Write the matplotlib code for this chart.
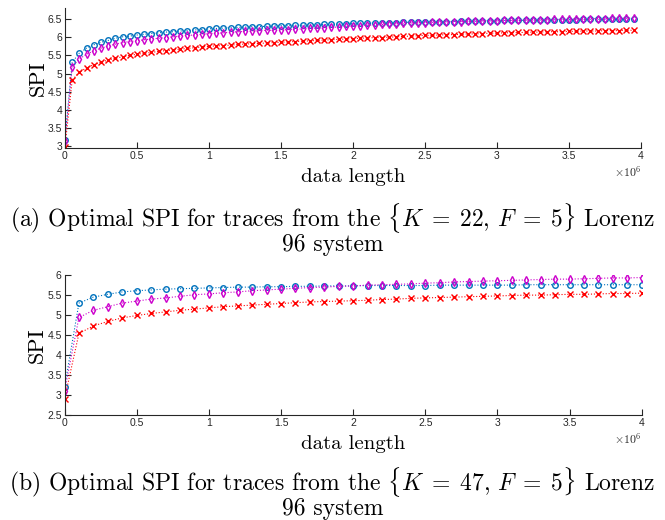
import numpy as np
import matplotlib
matplotlib.use("Agg")
import matplotlib.pyplot as plt
from matplotlib.ticker import FuncFormatter

plt.rcParams['font.family'] = ['Liberation Sans', 'DejaVu Sans']
plt.rcParams['mathtext.fontset'] = 'cm'

# (a) K=22, F=5 : data length every 5e4
len_a = np.arange(0, 4.0e6, 5.0e4)
spi_a_blue = [3.18, 5.31, 5.56, 5.70, 5.79, 5.86, 5.91, 5.97, 6.01, 6.03,
              6.06, 6.08, 6.10, 6.12, 6.14, 6.15, 6.17, 6.18, 6.20, 6.21,
              6.23, 6.24, 6.25, 6.26, 6.27, 6.28, 6.29, 6.29, 6.30, 6.31,
              6.32, 6.32, 6.33, 6.33, 6.34, 6.34, 6.35, 6.35, 6.36, 6.37,
              6.38, 6.38, 6.38, 6.39, 6.39, 6.40, 6.40, 6.41, 6.41, 6.41,
              6.42, 6.42, 6.43, 6.43, 6.43, 6.44, 6.44, 6.44, 6.45, 6.45,
              6.45, 6.46, 6.46, 6.46, 6.47, 6.47, 6.47, 6.47, 6.48, 6.48,
              6.48, 6.48, 6.49, 6.49, 6.49, 6.49, 6.50, 6.50, 6.50, 6.50]
spi_a_mag = [3.15, 5.19, 5.40, 5.53, 5.62, 5.70, 5.75, 5.81, 5.85, 5.88,
             5.90, 5.93, 5.95, 5.97, 5.99, 6.01, 6.03, 6.05, 6.06, 6.08,
             6.10, 6.11, 6.12, 6.14, 6.15, 6.16, 6.17, 6.18, 6.19, 6.19,
             6.20, 6.21, 6.22, 6.23, 6.24, 6.25, 6.26, 6.27, 6.28, 6.30,
             6.31, 6.32, 6.33, 6.34, 6.35, 6.36, 6.37, 6.38, 6.39, 6.39,
             6.40, 6.41, 6.41, 6.42, 6.43, 6.43, 6.44, 6.44, 6.45, 6.45,
             6.45, 6.46, 6.46, 6.47, 6.47, 6.48, 6.48, 6.48, 6.49, 6.49,
             6.49, 6.50, 6.50, 6.51, 6.51, 6.51, 6.52, 6.52, 6.52, 6.53]
spi_a_red = [2.98, 4.82, 5.03, 5.16, 5.24, 5.31, 5.37, 5.42, 5.46, 5.50,
             5.53, 5.56, 5.58, 5.61, 5.63, 5.65, 5.67, 5.69, 5.71, 5.73,
             5.75, 5.76, 5.77, 5.78, 5.80, 5.81, 5.82, 5.83, 5.84, 5.85,
             5.86, 5.87, 5.88, 5.89, 5.90, 5.91, 5.92, 5.93, 5.94, 5.95,
             5.96, 5.97, 5.98, 5.99, 5.99, 6.00, 6.01, 6.02, 6.03, 6.04,
             6.05, 6.05, 6.06, 6.07, 6.07, 6.08, 6.09, 6.09, 6.10, 6.11,
             6.11, 6.12, 6.12, 6.13, 6.13, 6.14, 6.14, 6.15, 6.15, 6.15,
             6.16, 6.16, 6.17, 6.17, 6.17, 6.18, 6.18, 6.18, 6.19, 6.19]

# (b) K=47, F=5 : data length every 1e5
len_b = np.arange(0, 4.05e6, 1.0e5)
spi_b_blue = [3.19, 5.30, 5.45, 5.52, 5.58, 5.61, 5.63, 5.65, 5.66, 5.67,
              5.68, 5.69, 5.70, 5.70, 5.71, 5.71, 5.72, 5.72, 5.73, 5.73,
              5.73, 5.74, 5.74, 5.74, 5.74, 5.74, 5.75, 5.75, 5.75, 5.75,
              5.75, 5.75, 5.76, 5.76, 5.76, 5.76, 5.76, 5.76, 5.76, 5.76,
              5.76]
spi_b_mag = [3.10, 4.94, 5.12, 5.21, 5.30, 5.35, 5.40, 5.43, 5.47, 5.51,
             5.53, 5.56, 5.58, 5.61, 5.63, 5.65, 5.67, 5.69, 5.70, 5.72,
             5.73, 5.75, 5.76, 5.77, 5.78, 5.80, 5.81, 5.83, 5.84, 5.85,
             5.86, 5.87, 5.88, 5.89, 5.90, 5.90, 5.91, 5.92, 5.93, 5.93,
             5.94]
spi_b_red = [2.90, 4.54, 4.73, 4.84, 4.93, 4.99, 5.04, 5.08, 5.12, 5.15,
             5.18, 5.21, 5.23, 5.25, 5.27, 5.29, 5.31, 5.33, 5.34, 5.35,
             5.36, 5.37, 5.39, 5.40, 5.42, 5.43, 5.44, 5.45, 5.46, 5.47,
             5.48, 5.49, 5.50, 5.50, 5.51, 5.52, 5.52, 5.53, 5.54, 5.54,
             5.55]

captions = [r"(a) Optimal SPI for traces from the $\{K\;=\;22,\,F\;=\;5\}$ Lorenz",
            r"(b) Optimal SPI for traces from the $\{K\;=\;47,\,F\;=\;5\}$ Lorenz"]

c_blue = '#0072BD'
c_mag = '#CC00CC'
c_red = '#FF0000'
serif = 'cmr10'

fig = plt.figure(figsize=(6.65, 5.2), dpi=100)
ax1 = fig.add_axes([0.0977, 0.7154, 0.866, 0.269])
ax2 = fig.add_axes([0.097, 0.2019, 0.868, 0.269])


def style(ax, x, blue, mag, red, ylim, yticks):
    ax.plot(x, blue, ls=':', lw=0.8, color=c_blue, marker='o', ms=4,
            mfc='none', mew=1.0)
    ax.plot(x, mag, ls=':', lw=0.8, color=c_mag, marker='d', ms=4,
            mfc='none', mew=1.0)
    ax.plot(x, red, ls=':', lw=0.8, color=c_red, marker='x', ms=4, mew=1.0)
    ax.set_xlim(0, 4e6)
    ax.set_ylim(*ylim)
    ax.set_yticks(yticks)
    ax.set_xticks(np.arange(0, 4.01e6, 5e5))
    ax.xaxis.set_major_formatter(FuncFormatter(lambda v, p: "%g" % (v / 1e6)))
    ax.yaxis.set_major_formatter(FuncFormatter(lambda v, p: "%g" % v))
    for s in ['top', 'right']:
        ax.spines[s].set_visible(False)
    for s in ['left', 'bottom']:
        ax.spines[s].set_color('#262626')
        ax.spines[s].set_linewidth(0.8)
    ax.tick_params(direction='in', length=4, width=0.8, labelsize=7.5,
                   colors='#262626', pad=2)
    ax.set_ylabel("SPI", fontfamily=serif, fontsize=16, labelpad=0)
    ax.set_xlabel("data length", fontfamily=serif, fontsize=15, labelpad=5)
    ax.text(1.0, -0.17, r"$\times10^{6}$", transform=ax.transAxes,
            ha='right', va='center', fontsize=8.5, color='#262626')


style(ax1, len_a, spi_a_blue, spi_a_mag, spi_a_red, (2.95, 6.8),
      np.arange(3, 6.6, 0.5))
style(ax2, len_b, spi_b_blue, spi_b_mag, spi_b_red, (2.5, 6.0),
      np.arange(2.5, 6.1, 0.5))

for yc, cap in zip([218, 482], captions):
    fig.text(0.5, 1 - yc / 520, cap, ha='center', va='center',
             fontfamily=serif, fontsize=17)
    fig.text(0.5, 1 - (yc + 27) / 520, "96 system", ha='center', va='center',
             fontfamily=serif, fontsize=17)

fig.savefig("out.png", dpi=100)
